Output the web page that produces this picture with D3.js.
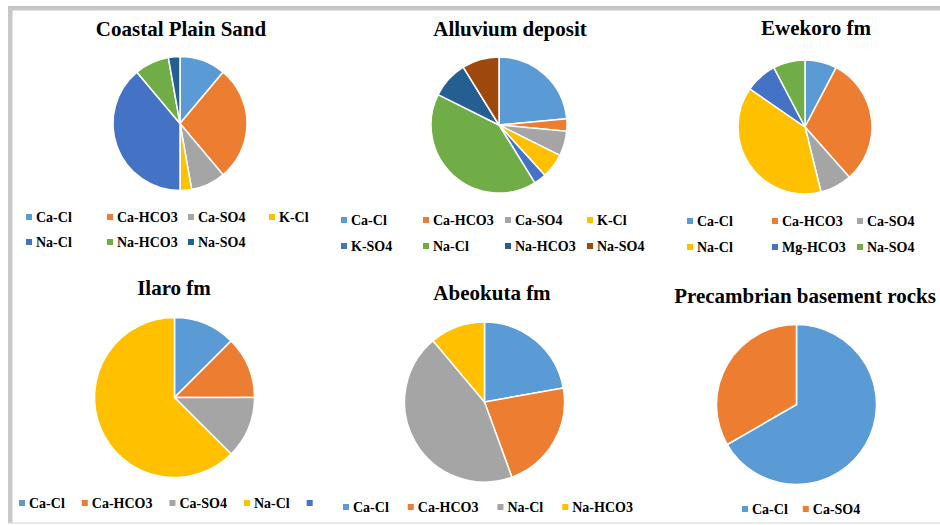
<!DOCTYPE html>
<html><head><meta charset="utf-8">
<script src="https://cdn.jsdelivr.net/npm/d3@7"></script>
<style>
body{margin:0;background:#fff} svg{display:block}
text{font-family:"Liberation Serif","Times New Roman",Times,"DejaVu Serif",serif;font-weight:bold;fill:#000}
</style>
</head><body>
<svg id="c" width="940" height="525"></svg>
<script>
const titles = ["Coastal Plain Sand","Alluvium deposit","Ewekoro fm","Ilaro fm","Abeokuta fm","Precambrian basement rocks"];
const coastalLabels = ["Ca-Cl","Ca-HCO3","Ca-SO4","K-Cl","Na-Cl","Na-HCO3","Na-SO4"];
const coastalValues = [4,10,3,1,14,3,1];
const alluviumLabels = ["Ca-Cl","Ca-HCO3","Ca-SO4","K-Cl","K-SO4","Na-Cl","Na-HCO3","Na-SO4"];
const alluviumValues = [8,1,2,2,1,14,3,3];
const ewekoroLabels = ["Ca-Cl","Ca-HCO3","Ca-SO4","Na-Cl","Mg-HCO3","Na-SO4"];
const ewekoroValues = [1,4,1,5,1,1];
const ilaroLabels = ["Ca-Cl","Ca-HCO3","Ca-SO4","Na-Cl",""];
const ilaroValues = [1,1,1,5,0];
const abeokutaLabels = ["Ca-Cl","Ca-HCO3","Na-Cl","Na-HCO3"];
const abeokutaValues = [2,2,4,1];
const precambrianLabels = ["Ca-Cl","Ca-SO4"];
const precambrianValues = [2,1];
const palette = ["#5B9BD5","#ED7D31","#A5A5A5","#FFC000","#4472C4","#70AD47","#255E91","#9E480E"];

const layout = [
  {cx:180, cy:123.5, r:67, tx:181, ty:36, lx:26, ly:217, rowH:25, colW:81, cols:4},
  {cx:499, cy:125, r:68, tx:510, ty:36, lx:341, ly:220, rowH:26, colW:82, cols:4},
  {cx:805, cy:127, r:67, tx:816, ty:35, lx:687, ly:221, rowH:26, colW:85, cols:3},
  {cx:174.5, cy:397.5, r:80, tx:174, ty:295, lx:19, ly:503, gap:17},
  {cx:484.5, cy:402, r:80, tx:492, ty:300, lx:343, ly:507, gap:19},
  {cx:796.5, cy:404.5, r:80, tx:805, ty:303, lx:742, ly:509, gap:15}
];
const datasets = [
  [coastalLabels, coastalValues],
  [alluviumLabels, alluviumValues],
  [ewekoroLabels, ewekoroValues],
  [ilaroLabels, ilaroValues],
  [abeokutaLabels, abeokutaValues],
  [precambrianLabels, precambrianValues]
];

const svg = d3.select("#c");
svg.append("rect").attr("x",0).attr("y",0).attr("width",940).attr("height",525).attr("fill","#fff");
// frame
svg.append("rect").attr("x",8).attr("y",6).attr("width",932).attr("height",4.5).attr("fill","#c8c8c8");
svg.append("rect").attr("x",8).attr("y",6).attr("width",4.5).attr("height",517).attr("fill","#c8c8c8");
svg.append("rect").attr("x",8).attr("y",522.5).attr("width",932).attr("height",1.2).attr("fill","#dcdcdc");

const pie = d3.pie().sort(null).value(d => d.v);

datasets.forEach(([labels, values], i) => {
  const L = layout[i];
  const data = labels.map((l, k) => ({l, v: values[k], c: palette[k % palette.length]}));
  const g = svg.append("g");
  g.append("text").attr("x", L.tx).attr("y", L.ty).attr("text-anchor","middle")
    .style("font-size", "21px").text(titles[i]);
  const arc = d3.arc().innerRadius(0).outerRadius(L.r);
  g.append("g").attr("transform", `translate(${L.cx},${L.cy})`)
    .selectAll("path").data(pie(data).filter(d => d.data.v > 0)).join("path")
    .attr("d", arc).attr("fill", d => d.data.c)
    .attr("stroke","#fff").attr("stroke-width",1.5).attr("stroke-linejoin","round");
  // legend
  const lg = g.append("g");
  let x = L.lx;
  data.forEach((d, k) => {
    let ix, iy;
    if (L.cols) {
      ix = L.lx + (k % L.cols) * L.colW;
      iy = L.ly + Math.floor(k / L.cols) * L.rowH;
    } else {
      ix = x; iy = L.ly;
    }
    lg.append("rect").attr("x", ix).attr("y", iy - 3).attr("width", 6).attr("height", 6).attr("fill", d.c);
    const t = lg.append("text").attr("x", ix + 10).attr("y", iy + 4.6)
      .style("font-size", "14px").text(d.l);
    if (!L.cols) x = ix + 10 + t.node().getComputedTextLength() + L.gap;
  });
});
</script>
</body></html>
